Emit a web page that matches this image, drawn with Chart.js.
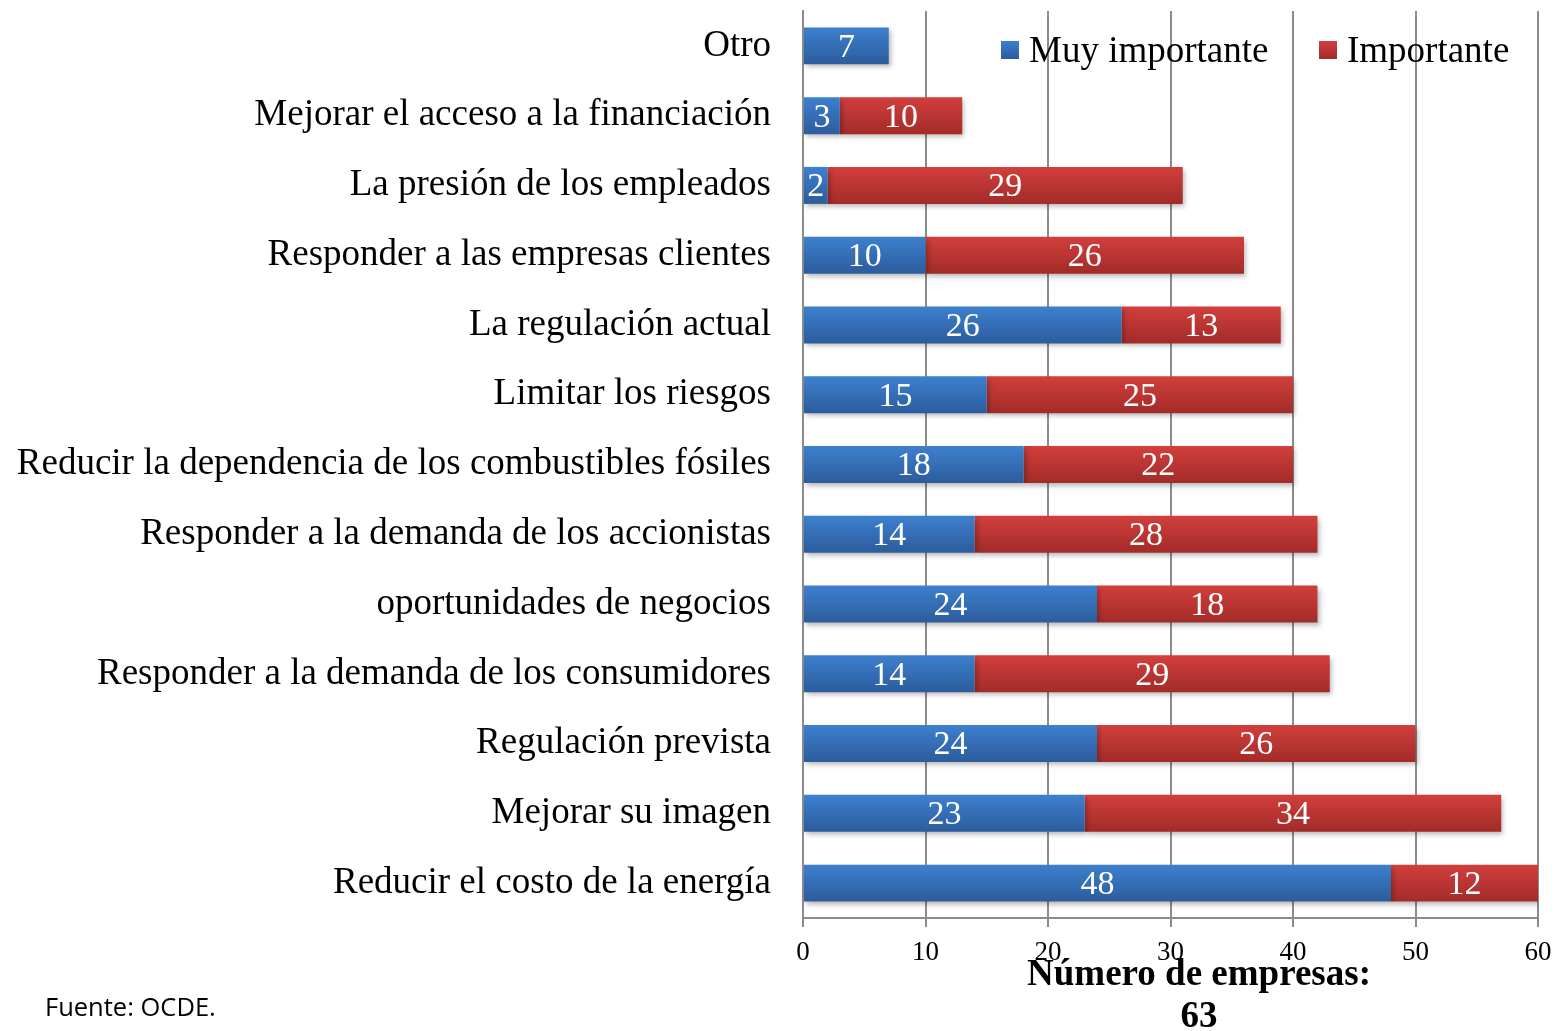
<!DOCTYPE html>
<html>
<head>
<meta charset="utf-8">
<script src="https://cdn.jsdelivr.net/npm/chart.js@4/dist/chart.umd.min.js"></script>
<style>
  html, body { margin: 0; padding: 0; background: #fff; }
  #wrap { width: 1563px; height: 1031px; }
</style>
</head>
<body>
<div id="wrap"><canvas id="chart" width="1563" height="1031"></canvas></div>
<script>
const categories = [
  'Otro',
  'Mejorar el acceso a la financiación',
  'La presión de los empleados',
  'Responder a las empresas clientes',
  'La regulación actual',
  'Limitar los riesgos',
  'Reducir la dependencia de los combustibles fósiles',
  'Responder a la demanda de los accionistas',
  'oportunidades de negocios',
  'Responder a la demanda de los consumidores',
  'Regulación prevista',
  'Mejorar su imagen',
  'Reducir el costo de la energía',
];
const muyImportante = [7, 3, 2, 10, 26, 15, 18, 14, 24, 14, 24, 23, 48];
const importante = [0, 10, 29, 26, 13, 25, 22, 28, 18, 29, 26, 34, 12];
const seriesNames = ['Muy importante', 'Importante'];
const xTicks = [0, 10, 20, 30, 40, 50, 60];
const axisTitle = ['Número de empresas:', '63'];
const source = 'Fuente: OCDE.';

const GRID = '#8c8c8c';
const SERIF = '"Liberation Serif", "Times New Roman", serif';
const BAR_PCT = 0.53;
const colors = [
  { top: '#3d80cf', bottom: '#2c5c9c', flat: '#3a76c2' },
  { top: '#d23f3c', bottom: '#a22b29', flat: '#c3383a' },
];

function gradientFor(idx) {
  return (ctx) => {
    const chart = ctx.chart;
    const c = colors[idx];
    if (!chart.chartArea || ctx.dataIndex === undefined) return c.flat;
    const y = chart.scales.y.getPixelForValue(ctx.dataIndex);
    const half = (chart.chartArea.height / categories.length) * BAR_PCT / 2;
    const g = chart.ctx.createLinearGradient(0, y - half, 0, y + half);
    g.addColorStop(0, c.top);
    g.addColorStop(1, c.bottom);
    return g;
  };
}

const extras = {
  id: 'extras',
  beforeDatasetsDraw(chart) {
    const { ctx } = chart;
    ctx.save();
    ctx.shadowColor = 'rgba(0,0,0,0.28)';
    ctx.shadowBlur = 5;
    ctx.shadowOffsetX = 2;
    ctx.shadowOffsetY = 3;
  },
  afterDatasetsDraw(chart) {
    const { ctx } = chart;
    ctx.restore();
    // value labels
    ctx.save();
    ctx.fillStyle = '#fff';
    ctx.font = `34px ${SERIF}`;
    ctx.textAlign = 'center';
    ctx.textBaseline = 'middle';
    chart.data.datasets.forEach((ds, di) => {
      chart.getDatasetMeta(di).data.forEach((bar, i) => {
        const v = ds.data[i];
        if (!v) return;
        ctx.fillText(String(v), (bar.x + bar.base) / 2, bar.y + 2);
      });
    });
    ctx.restore();
  },
  afterDraw(chart) {
    const { ctx } = chart;
    ctx.save();
    // legend
    const legendX = [1001, 1319];
    ctx.font = `37px ${SERIF}`;
    ctx.textBaseline = 'middle';
    ctx.textAlign = 'left';
    seriesNames.forEach((name, i) => {
      const g = ctx.createLinearGradient(0, 41, 0, 59);
      g.addColorStop(0, colors[i].top);
      g.addColorStop(1, colors[i].bottom);
      ctx.fillStyle = g;
      ctx.fillRect(legendX[i], 41, 18, 18);
      ctx.fillStyle = '#000';
      ctx.fillText(name, legendX[i] + 28, 52);
    });
    // axis title
    ctx.font = `bold 37px ${SERIF}`;
    ctx.textAlign = 'center';
    ctx.fillText(axisTitle[0], 1199, 975);
    ctx.fillText(axisTitle[1], 1199, 1017);
    // source
    ctx.font = '25.5px "Open Sans", "Liberation Sans", sans-serif';
    ctx.textAlign = 'left';
    ctx.textBaseline = 'alphabetic';
    ctx.fillText(source, 45, 1016);
    ctx.restore();
  },
};

new Chart(document.getElementById('chart'), {
  type: 'bar',
  data: {
    labels: categories,
    datasets: [
      { label: seriesNames[0], data: muyImportante, backgroundColor: gradientFor(0) },
      { label: seriesNames[1], data: importante, backgroundColor: gradientFor(1) },
    ],
  },
  options: {
    indexAxis: 'y',
    responsive: false,
    devicePixelRatio: 1,
    animation: false,
    categoryPercentage: 1,
    barPercentage: BAR_PCT,
    layout: { padding: { top: 11, right: 25, left: 0, bottom: 0 } },
    plugins: {
      legend: { display: false },
      tooltip: { enabled: false },
    },
    scales: {
      x: {
        stacked: true,
        min: 0,
        max: 60,
        afterBuildTicks(scale) {
          scale.ticks = xTicks.map((v) => ({ value: v }));
        },
        afterFit(scale) { scale.height = 113; },
        grid: { color: GRID, lineWidth: 2, tickLength: 9, drawTicks: true },
        border: { color: GRID, width: 2 },
        ticks: {
          color: '#000',
          padding: 10,
          font: { family: SERIF, size: 27 },
        },
      },
      y: {
        stacked: true,
        afterFit(scale) {
          scale.width = 803;
          scale.paddingTop = 0;
          scale.paddingBottom = 0;
        },
        grid: { display: false, drawTicks: false },
        border: { color: GRID, width: 2 },
        ticks: {
          color: '#000',
          padding: 32,
          font: { family: SERIF, size: 37 },
        },
      },
    },
  },
  plugins: [extras],
});
</script>
</body>
</html>
